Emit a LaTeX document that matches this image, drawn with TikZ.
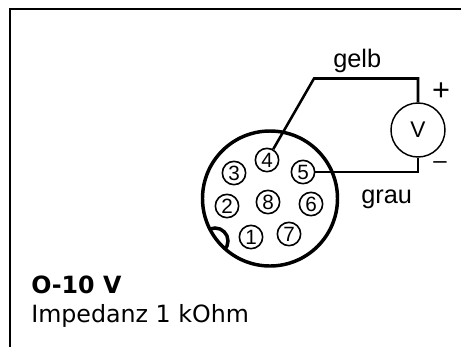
\documentclass[tikz,border=0pt]{standalone}
\usepackage{fontspec}
\setmainfont{DejaVu Sans}
\newfontfamily\arialf{Liberation Sans}
\tikzset{
  x=0.75pt,y=-0.75pt,
  wire/.style={line width=1.9pt,line join=miter},
  body/.style={line width=2.6pt},
  pin/.style={circle,draw,line width=1.2pt,minimum size=17.5pt,inner sep=0pt,font=\arialf\fontsize{15.5}{15.5}\selectfont},
  lab/.style={font=\arialf\fontsize{19}{19}\selectfont,inner sep=0pt},
  txt/.style={font=\fontsize{17.8}{17.8}\selectfont,inner sep=0pt,anchor=base west}
}
\begin{document}
\begin{tikzpicture}
\useasboundingbox (0,0) rectangle (461,347);
\fill[white] (0,0) rectangle (461,347);
\coordinate (fa) at (10,347);
\coordinate (fb) at (10,9);
\coordinate (fc) at (461,9);
\draw[line width=1.4pt] (fa) -- (fb) -- (fc);
\coordinate (c) at (270,198.5);
\draw[body] (c) circle (67.5);
\node[pin] (p4) at (267,160) {4};
\node[pin] (p5) at (303,172) {5};
\node[pin] (p3) at (234,173) {3};
\node[pin] (p8) at (268,202) {8};
\node[pin] (p2) at (227,206) {2};
\node[pin] (p6) at (311,204) {6};
\node[pin] (p1) at (251,237) {1};
\node[pin] (p7) at (289,234) {7};
\begin{scope}
\clip (c) circle (67.5);
\draw[body] (215,241) circle (13);
\end{scope}
\node[circle,draw,line width=1.1pt,minimum size=40.5pt,inner sep=0pt,font=\arialf\fontsize{17}{17}\selectfont] (v) at (418,130) {V};
\coordinate (a) at (314,78.5);
\coordinate (b) at (418,78.5);
\coordinate (d) at (418,173);
\draw[wire] (p4) -- (a) -- (b) -- (v);
\draw[wire] (p5) -- (p5 -| d) -- (v);
\node[lab,anchor=base west] (gelb) at (333,67) {gelb};
\node[lab,anchor=base west] (grau) at (361,203) {grau};
\node[lab,font=\arialf\fontsize{23}{23}\selectfont] (plus) at (441,92) {+};
\node[lab,font=\arialf\fontsize{18}{18}\selectfont] (minus) at (440,165) {–};
\node[txt,font=\bfseries\fontsize{17.8}{17.8}\selectfont] (t1) at (31,293) {O-10 V};
\node[txt] (t2) at (31,322) {Impedanz 1 kOhm};
\end{tikzpicture}
\end{document}
